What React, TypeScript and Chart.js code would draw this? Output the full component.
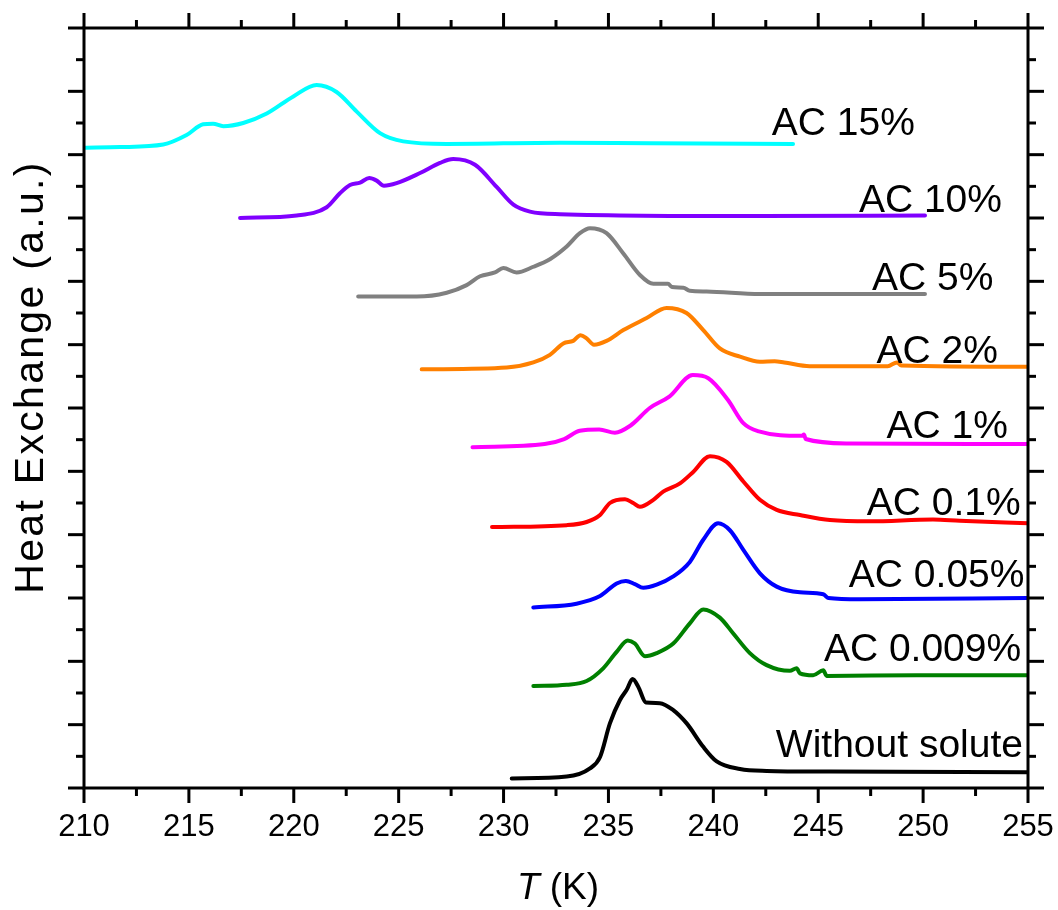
import React, { useEffect, useRef } from "react";
import { Chart, registerables } from "chart.js";

Chart.register(...registerables);

// Axis ranges
const X_MIN = 210;
const X_MAX = 255;
const X_MAJOR = 5;
const X_MINOR = 2.5;
const Y_MIN = 0;
const Y_MAX = 12;
const Y_MAJOR = 1;
const Y_MINOR = 0.5;

const X_TITLE_ITALIC = "T";
const X_TITLE_REST = " (K)";
const Y_TITLE = "Heat Exchange (a.u.)";

// Series names and colours
const seriesNames = [
  "AC 15%",
  "AC 10%",
  "AC 5%",
  "AC 2%",
  "AC 1%",
  "AC 0.1%",
  "AC 0.05%",
  "AC 0.009%",
  "Without solute",
];
const seriesColors = [
  "#00FFFF",
  "#8000FF",
  "#808080",
  "#FF8000",
  "#FF00FF",
  "#FF0000",
  "#0000FF",
  "#008000",
  "#000000",
];

// Curves: [T (K), heat exchange (a.u., offset)]
const ac15: [number, number][] = [
  [210, 10.11], [211.72, 10.12], [213.78, 10.16], [214.89, 10.31], [215.68, 10.48],
  [216.15, 10.49], [216.64, 10.45], [217.59, 10.5], [218.71, 10.65], [219.98, 10.92],
  [221.09, 11.1], [222.04, 10.99], [223.0, 10.68], [224.11, 10.34], [225.22, 10.21],
  [227.29, 10.17], [232.69, 10.19], [236.98, 10.18], [243.8, 10.17],
];
const ac10: [number, number][] = [
  [217.44, 9.0], [220.14, 9.04], [221.57, 9.17], [222.2, 9.39], [222.68, 9.52],
  [223.16, 9.56], [223.6, 9.63], [223.95, 9.59], [224.3, 9.51], [224.9, 9.55],
  [226.02, 9.71], [226.97, 9.87], [227.6, 9.93], [228.64, 9.84], [229.67, 9.49],
  [230.47, 9.21], [231.26, 9.1], [232.69, 9.06], [242.22, 9.03], [250.09, 9.04],
];
const ac5: [number, number][] = [
  [223.07, 7.76], [225.86, 7.76], [227.29, 7.82], [228.24, 7.94], [228.88, 8.08],
  [229.59, 8.14], [229.99, 8.21], [230.62, 8.14], [231.42, 8.23], [232.21, 8.35],
  [233.01, 8.55], [233.64, 8.76], [234.12, 8.84], [234.91, 8.76], [235.71, 8.44],
  [236.5, 8.1], [237.14, 7.96], [237.84, 7.96], [238.03, 7.91], [238.57, 7.9],
  [238.88, 7.85], [239.68, 7.84], [242.22, 7.8], [250.09, 7.8],
];
const ac2: [number, number][] = [
  [226.1, 6.61], [230.15, 6.64], [231.42, 6.72], [232.21, 6.84], [232.85, 7.02],
  [233.32, 7.06], [233.67, 7.15], [233.96, 7.1], [234.31, 7.0], [234.91, 7.06],
  [235.71, 7.23], [236.82, 7.42], [237.77, 7.58], [238.72, 7.5], [239.52, 7.23],
  [240.31, 6.94], [241.27, 6.81], [242.22, 6.73], [242.92, 6.74], [243.38, 6.72],
  [244.59, 6.66], [248.31, 6.66], [248.75, 6.72], [248.96, 6.67], [255, 6.65],
];
const ac1: [number, number][] = [
  [228.52, 5.38], [231.96, 5.43], [232.89, 5.51], [233.63, 5.64], [234.56, 5.66],
  [235.31, 5.61], [236.04, 5.72], [236.97, 6.0], [237.9, 6.18], [239.02, 6.52],
  [239.76, 6.47], [240.69, 6.13], [241.43, 5.76], [242.17, 5.63], [244.22, 5.56],
  [244.32, 5.58], [244.4, 5.51], [246.45, 5.44], [255, 5.43],
];
const ac01: [number, number][] = [
  [229.45, 4.12], [233.01, 4.15], [233.96, 4.2], [234.6, 4.31], [235.07, 4.5],
  [235.79, 4.56], [236.18, 4.5], [236.5, 4.44], [237.14, 4.55], [237.61, 4.68],
  [238.41, 4.81], [239.04, 4.99], [239.84, 5.24], [240.63, 5.15], [241.43, 4.84],
  [242.22, 4.55], [243.02, 4.39], [244.13, 4.31], [245.56, 4.23], [247.46, 4.21],
  [250.47, 4.24], [251.75, 4.22], [255, 4.18],
];
const ac005: [number, number][] = [
  [231.42, 2.85], [233.48, 2.91], [234.6, 3.03], [235.39, 3.23], [235.83, 3.27],
  [236.26, 3.22], [236.66, 3.16], [237.3, 3.21], [238.09, 3.34], [238.88, 3.57],
  [239.52, 3.92], [240.23, 4.18], [240.79, 4.07], [241.43, 3.76], [242.22, 3.39],
  [243.02, 3.18], [244.13, 3.09], [245.24, 3.06], [245.48, 3.0], [246.99, 2.98],
  [255, 3.0],
];
const ac0009: [number, number][] = [
  [231.42, 1.61], [233.01, 1.63], [233.96, 1.69], [234.75, 1.89], [235.39, 2.15],
  [235.92, 2.33], [236.26, 2.28], [236.74, 2.08], [237.3, 2.13], [238.09, 2.28],
  [238.88, 2.6], [239.52, 2.82], [240.31, 2.69], [240.95, 2.44], [241.74, 2.13],
  [242.54, 1.94], [243.65, 1.85], [243.97, 1.89], [244.13, 1.81], [244.76, 1.78],
  [245.24, 1.86], [245.4, 1.77], [249.69, 1.78], [255, 1.78],
];
const noSolute: [number, number][] = [
  [230.39, 0.15], [233.01, 0.18], [234.12, 0.31], [234.6, 0.49], [235.07, 1.02],
  [235.55, 1.39], [235.87, 1.55], [236.15, 1.72], [236.42, 1.6], [236.79, 1.35],
  [237.45, 1.34], [238.09, 1.23], [238.73, 1.02], [239.52, 0.65], [240.16, 0.42],
  [241.27, 0.3], [242.54, 0.27], [245.56, 0.26], [255, 0.25],
];

const seriesData = [ac15, ac10, ac5, ac2, ac1, ac01, ac005, ac0009, noSolute];

// Where each curve's text label sits (data coordinates: left edge T, baseline value)
const labelAnchorT = [242.79, 246.94, 247.56, 247.78, 248.26, 247.31, 246.46, 245.27, 242.98];
const labelAnchorV = [10.31, 9.095, 7.86, 6.71, 5.53, 4.31, 3.17, 2.005, 0.49];

const FONT = '"Liberation Sans", Arial, Helvetica, sans-serif';

const decorPlugin = {
  id: "decor",
  afterDatasetsDraw(chart: any) {
    const { ctx, scales } = chart;
    const xs = scales.x;
    const ys = scales.y;
    ctx.save();
    ctx.fillStyle = "#000";
    ctx.font = `39px ${FONT}`;
    ctx.textAlign = "left";
    ctx.textBaseline = "alphabetic";
    seriesNames.forEach((name, i) => {
      ctx.fillText(name, xs.getPixelForValue(labelAnchorT[i]), ys.getPixelForValue(labelAnchorV[i]));
    });
    ctx.restore();
  },
  afterDraw(chart: any) {
    const { ctx, chartArea: a, scales } = chart;
    const xs = scales.x;
    const ys = scales.y;
    ctx.save();
    ctx.strokeStyle = "#000";
    ctx.lineWidth = 3;
    ctx.lineCap = "butt";
    ctx.strokeRect(a.left, a.top, a.right - a.left, a.bottom - a.top);
    const seg = (x1: number, y1: number, x2: number, y2: number) => {
      ctx.beginPath();
      ctx.moveTo(x1, y1);
      ctx.lineTo(x2, y2);
      ctx.stroke();
    };
    const nX = Math.round((X_MAX - X_MIN) / X_MINOR);
    for (let i = 0; i <= nX; i++) {
      const v = X_MIN + i * X_MINOR;
      const major = Math.abs(v / X_MAJOR - Math.round(v / X_MAJOR)) < 1e-6;
      const len = major ? 15 : 8;
      const px = xs.getPixelForValue(v);
      seg(px, a.bottom, px, a.bottom + len);
      seg(px, a.top, px, a.top - len);
    }
    const nY = Math.round((Y_MAX - Y_MIN) / Y_MINOR);
    for (let i = 0; i <= nY; i++) {
      const v = Y_MIN + i * Y_MINOR;
      const major = Math.abs(v / Y_MAJOR - Math.round(v / Y_MAJOR)) < 1e-6;
      const len = major ? 16 : 8;
      const py = ys.getPixelForValue(v);
      seg(a.left, py, a.left - len, py);
      seg(a.right, py, a.right + len, py);
    }
    // Axis titles
    ctx.fillStyle = "#000";
    ctx.textBaseline = "alphabetic";
    ctx.font = `italic 37px ${FONT}`;
    const wT = ctx.measureText(X_TITLE_ITALIC).width;
    ctx.font = `37px ${FONT}`;
    const wR = ctx.measureText(X_TITLE_REST).width;
    const cx = (a.left + a.right) / 2 + 2;
    const startX = cx - (wT + wR) / 2;
    ctx.textAlign = "left";
    ctx.font = `italic 37px ${FONT}`;
    ctx.fillText(X_TITLE_ITALIC, startX, 899);
    ctx.font = `37px ${FONT}`;
    ctx.fillText(X_TITLE_REST, startX + wT, 899);

    ctx.translate(43, 377);
    ctx.rotate(-Math.PI / 2);
    ctx.font = `41px ${FONT}`;
    try {
      (ctx as any).letterSpacing = "2.3px";
    } catch (e) {}
    ctx.textAlign = "center";
    ctx.fillText(Y_TITLE, 0, 0);
    ctx.restore();
  },
};

export default function App() {
  const canvasRef = useRef<HTMLCanvasElement | null>(null);

  useEffect(() => {
    if (!canvasRef.current) return;
    document.body.style.margin = "0";
    document.body.style.overflow = "hidden";
    const chart = new Chart(canvasRef.current, {
      type: "line",
      data: {
        datasets: seriesData.map((pts, i) => ({
          label: seriesNames[i],
          data: pts.map(([x, y]) => ({ x, y })),
          borderColor: seriesColors[i],
          backgroundColor: seriesColors[i],
          borderWidth: 4,
          pointRadius: 0,
          fill: false,
          cubicInterpolationMode: "monotone" as const,
          borderCapStyle: "round" as const,
          borderJoinStyle: "round" as const,
        })),
      },
      options: {
        animation: false,
        responsive: false,
        maintainAspectRatio: false,
        devicePixelRatio: 1,
        layout: { padding: { top: 28, right: 30, left: 0, bottom: 0 } },
        plugins: {
          legend: { display: false },
          tooltip: { enabled: false },
          title: { display: false },
        },
        scales: {
          x: {
            type: "linear",
            min: X_MIN,
            max: X_MAX,
            grid: { display: false },
            border: { display: false },
            ticks: {
              stepSize: X_MAJOR,
              color: "#000",
              font: { size: 31, family: FONT },
              padding: 13,
              maxRotation: 0,
              autoSkip: false,
            },
            afterFit: (scale: any) => {
              scale.height = 122;
              scale.paddingLeft = 0;
              scale.paddingRight = 0;
            },
          },
          y: {
            type: "linear",
            min: Y_MIN,
            max: Y_MAX,
            grid: { display: false },
            border: { display: false },
            ticks: { display: false, stepSize: Y_MAJOR },
            afterFit: (scale: any) => {
              scale.width = 84;
              scale.paddingTop = 0;
              scale.paddingBottom = 0;
            },
          },
        },
      },
      plugins: [decorPlugin],
    });
    return () => chart.destroy();
  }, []);

  return (
    <div style={{ position: "absolute", left: 0, top: 0, width: 1058, height: 910, background: "#fff", overflow: "hidden" }}>
      <canvas ref={canvasRef} width={1058} height={910} style={{ display: "block", width: 1058, height: 910 }} />
    </div>
  );
}
